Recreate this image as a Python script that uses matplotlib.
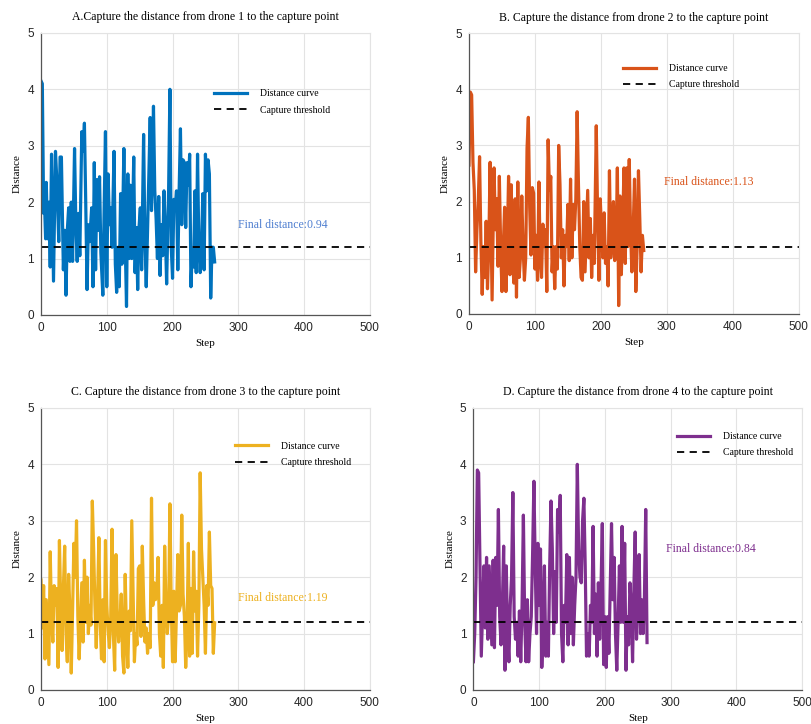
import numpy as np
import matplotlib
matplotlib.use("Agg")
import matplotlib.pyplot as plt

# distance readings per drone (step, distance)
steps_1 = [0, 2, 4, 5, 7, 8, 10, 12, 14, 16, 19, 22, 24, 27, 29, 31, 34, 36, 38, 40,
           42, 44, 46, 48, 51, 53, 55, 57, 59, 62, 64, 66, 68, 70, 72, 74, 77, 79, 81, 83,
           85, 87, 89, 91, 94, 96, 98, 100, 102, 104, 106, 108, 111, 113, 115, 117, 119, 121, 123, 126,
           128, 130, 132, 134, 136, 138, 141, 143, 145, 147, 149, 151, 153, 156, 158, 160, 162, 164, 166, 168,
           171, 173, 175, 177, 179, 181, 183, 185, 187, 189, 191, 194, 196, 198, 200, 202, 204, 206, 208, 210,
           212, 214, 216, 218, 220, 222, 224, 226, 228, 230, 232, 234, 236, 238, 240, 242, 244, 246, 248, 250,
           252, 254, 256, 258, 260, 262, 264]
dist_1 = [4.15, 4.1, 1.8, 2.1, 1.35, 2.35, 1.35, 2.0, 0.85, 2.85, 0.6, 2.9, 2.4, 1.3, 2.8, 2.8, 0.8, 1.5, 0.35, 1.5,
          1.9, 0.95, 2.0, 0.95, 2.95, 1.6, 0.95, 1.8, 1.05, 3.25, 2.9, 3.4, 2.0, 0.45, 1.6, 1.3, 1.9, 0.5, 2.7, 0.8,
          2.4, 1.5, 2.45, 1.1, 0.35, 1.9, 3.25, 0.5, 2.5, 1.6, 1.9, 1.2, 2.9, 0.9, 0.4, 1.2, 0.5, 2.15, 0.9, 2.95,
          1.3, 0.15, 2.5, 1.0, 2.3, 1.0, 2.8, 0.75, 1.55, 0.45, 1.55, 1.9, 0.8, 3.2, 1.3, 0.5, 1.5, 2.5, 3.5, 1.85,
          3.7, 2.2, 1.7, 1.0, 2.1, 0.7, 1.6, 1.05, 2.2, 1.5, 0.55, 2.2, 4.0, 1.2, 0.65, 2.05, 1.9, 2.2, 0.8, 2.2,
          3.3, 1.6, 2.75, 2.7, 1.55, 2.7, 2.3, 2.85, 0.5, 1.15, 0.85, 2.2, 0.75, 2.85, 1.2, 0.75, 1.2, 2.15, 0.8, 2.85,
          2.2, 2.75, 2.5, 0.3, 1.2, 1.2, 0.94]

steps_2 = [0, 2, 4, 6, 8, 10, 12, 14, 16, 18, 20, 22, 24, 26, 28, 30, 32, 34, 35, 38,
           40, 42, 44, 46, 48, 50, 52, 54, 56, 58, 60, 62, 64, 66, 68, 70, 72, 74, 76, 78,
           80, 82, 84, 86, 88, 90, 92, 94, 96, 98, 100, 102, 104, 106, 108, 110, 112, 114, 116, 118,
           120, 122, 124, 126, 128, 130, 132, 134, 136, 138, 140, 142, 144, 146, 148, 150, 152, 154, 156, 158,
           160, 162, 164, 166, 168, 170, 172, 174, 176, 178, 180, 182, 184, 186, 188, 190, 193, 195, 197, 199,
           201, 203, 205, 207, 209, 211, 213, 215, 217, 219, 221, 223, 225, 227, 229, 231, 233, 235, 237, 239,
           241, 243, 245, 247, 249, 251, 253, 255, 257, 259, 261, 263, 265]
dist_2 = [2.65, 3.95, 3.9, 2.7, 2.2, 0.75, 1.5, 2.0, 2.8, 1.3, 0.35, 1.2, 0.65, 1.65, 0.45, 1.2, 2.7, 1.0, 0.25, 2.6,
          1.5, 2.05, 0.85, 2.45, 1.2, 0.4, 1.2, 1.9, 0.4, 1.2, 2.45, 0.7, 2.3, 1.0, 0.55, 2.05, 0.3, 2.35, 0.65, 1.0,
          2.1, 1.2, 0.6, 1.0, 2.95, 3.5, 1.9, 1.05, 2.25, 2.15, 0.8, 1.4, 0.6, 2.35, 1.0, 0.65, 1.6, 1.2, 1.5, 0.4,
          3.1, 2.2, 2.45, 0.75, 1.2, 0.45, 1.2, 0.8, 3.0, 2.3, 1.0, 1.5, 0.5, 1.4, 1.2, 1.95, 0.95, 2.4, 1.0, 1.95,
          1.5, 2.05, 3.6, 2.3, 1.2, 0.65, 0.6, 2.0, 0.75, 1.5, 2.2, 1.0, 1.7, 0.65, 1.4, 0.9, 3.35, 1.8, 0.6, 2.05,
          1.5, 1.0, 1.8, 0.9, 1.2, 0.5, 2.55, 1.0, 1.3, 2.0, 0.95, 1.2, 2.6, 0.15, 2.1, 0.7, 1.5, 2.6, 0.9, 2.6,
          1.2, 2.75, 1.5, 0.75, 1.5, 2.4, 0.4, 1.2, 2.55, 1.7, 0.75, 1.4, 1.13]

# drones 3 and 4 read every 2 steps
dist_3 = [1.95, 1.1, 1.85, 0.55, 1.6, 1.0, 0.45, 2.45, 1.3, 0.85,
          1.85, 1.5, 1.8, 0.4, 2.65, 1.5, 0.7, 1.8, 2.55, 1.0,
          0.5, 2.05, 1.4, 0.3, 1.4, 2.6, 2.0, 3.0, 1.3, 0.55,
          1.2, 1.9, 0.85, 2.3, 1.2, 2.0, 1.0, 1.5, 1.15, 3.35,
          2.5, 1.5, 0.75, 1.6, 2.7, 1.2, 0.55, 1.6, 0.5, 2.65,
          1.5, 1.05, 0.75, 1.3, 2.85, 1.0, 0.35, 2.4, 1.3, 0.85,
          1.2, 1.7, 0.6, 0.3, 2.05, 1.0, 0.4, 1.4, 1.05, 3.0,
          1.7, 0.5, 1.0, 0.8, 2.15, 2.2, 0.95, 2.55, 1.6, 0.85,
          1.1, 0.65, 1.0, 0.75, 3.4, 1.5, 1.9, 1.6, 1.7, 2.35,
          1.0, 0.6, 1.5, 0.4, 2.55, 1.5, 1.0, 1.3, 3.3, 1.5,
          0.5, 1.75, 0.5, 1.4, 2.4, 1.4, 1.5, 3.1, 1.7, 1.3,
          0.4, 1.0, 2.6, 0.6, 1.8, 0.65, 2.45, 1.4, 1.75, 0.6,
          1.5, 3.85, 2.5, 2.0, 1.5, 0.65, 1.85, 1.5, 2.8, 1.85,
          1.8, 0.65, 1.19]
dist_4 = [0.5, 1.0, 2.0, 3.9, 3.85, 2.2, 0.6, 1.4, 2.2, 1.1,
          2.35, 0.9, 2.2, 1.5, 0.8, 2.3, 0.75, 2.35, 1.5, 3.2,
          1.3, 0.8, 1.5, 2.55, 0.35, 2.2, 1.0, 0.5, 1.5, 2.0,
          3.5, 1.3, 0.9, 1.2, 0.6, 1.4, 0.5, 1.5, 3.1, 1.2,
          0.5, 1.6, 0.5, 1.0, 1.3, 2.4, 3.7, 2.2, 1.0, 2.6,
          1.5, 2.5, 0.4, 1.2, 2.2, 0.6, 1.2, 0.6, 2.2, 3.35,
          2.5, 1.0, 2.1, 1.2, 3.2, 2.8, 3.45, 1.0, 0.5, 1.5,
          1.2, 2.4, 0.8, 2.35, 1.0, 2.0, 0.8, 1.5, 2.0, 4.0,
          2.5, 2.0, 1.9, 3.0, 3.4, 2.2, 0.6, 1.0, 0.6, 1.5,
          1.2, 2.9, 1.0, 1.7, 0.6, 1.9, 0.9, 1.8, 2.95, 0.45,
          1.3, 0.4, 1.3, 0.65, 1.8, 2.95, 1.6, 2.35, 1.0, 0.35,
          1.2, 2.2, 1.2, 2.9, 1.2, 2.6, 0.35, 1.3, 0.8, 1.9,
          1.5, 0.5, 1.8, 2.8, 0.9, 1.8, 2.4, 1.0, 1.6, 1.0,
          1.6, 3.2, 0.84]
steps_3 = np.arange(len(dist_3)) * 2
steps_4 = np.arange(len(dist_4)) * 2

threshold = 1.2
final_dist = [0.94, 1.13, 1.19, 0.84]
titles = ["A.Capture the distance from drone 1 to the capture point",
          "B. Capture the distance from drone 2 to the capture point",
          "C. Capture the distance from drone 3 to the capture point",
          "D. Capture the distance from drone 4 to the capture point"]
colors = ["#0072BD", "#D95319", "#EDB120", "#7E2F8E"]
text_colors = ["#4F7FD0", "#D95319", "#EDB120", "#7E2F8E"]

serif = "Liberation Serif"
sans = "Liberation Sans"

fig = plt.figure(figsize=(8.12, 7.24), dpi=100)
positions = [[0.0505, 0.565, 0.405, 0.3895],
             [0.5776, 0.5663, 0.406, 0.388],
             [0.0505, 0.047, 0.405, 0.3895],
             [0.583, 0.047, 0.405, 0.3895]]
legend_anchor = [(0.526, 0.80), (0.467, 0.89), (0.59, 0.88), (0.62, 0.915)]
text_pos = [(0.60, 0.32), (0.59, 0.47), (0.60, 0.326), (0.587, 0.50)]
all_steps = [steps_1, steps_2, steps_3, steps_4]
all_dist = [dist_1, dist_2, dist_3, dist_4]

for i in range(4):
    ax = fig.add_axes(positions[i])
    ax.plot(all_steps[i], all_dist[i], color=colors[i], lw=2.3, label="Distance curve")
    ax.axhline(threshold, color="black", ls=(0, (4, 3)), lw=1.3, label="Capture threshold")
    ax.set_xlim(0, 500)
    ax.set_ylim(0, 5)
    ax.set_xticks([0, 100, 200, 300, 400, 500])
    ax.set_yticks([0, 1, 2, 3, 4, 5])
    ax.grid(True, color="#e3e3e3", lw=0.8)
    ax.set_axisbelow(True)
    for s in ["top", "right"]:
        ax.spines[s].set_color("#e3e3e3")
    for s in ["left", "bottom"]:
        ax.spines[s].set_color("#555555")
        ax.spines[s].set_linewidth(0.9)
    ax.tick_params(length=0, labelsize=8.5, colors="#262626", pad=5)
    for lab in ax.get_xticklabels() + ax.get_yticklabels():
        lab.set_family(sans)
    ax.set_title(titles[i], fontsize=8.5, family=serif, pad=9)
    ax.set_xlabel("Step", fontsize=8, family=serif)
    ax.set_ylabel("Distance", fontsize=8, family=serif)
    ax.legend(loc="upper left", bbox_to_anchor=legend_anchor[i], frameon=False,
              borderpad=0, borderaxespad=0, handlelength=3.4, handletextpad=1.3,
              labelspacing=0.75, prop={"family": serif, "size": 7})
    ax.text(text_pos[i][0], text_pos[i][1], "Final distance:%.2f" % final_dist[i],
            transform=ax.transAxes, color=text_colors[i], fontsize=8.5, family=serif,
            va="center", ha="left")

fig.savefig("out.png", dpi=100)
